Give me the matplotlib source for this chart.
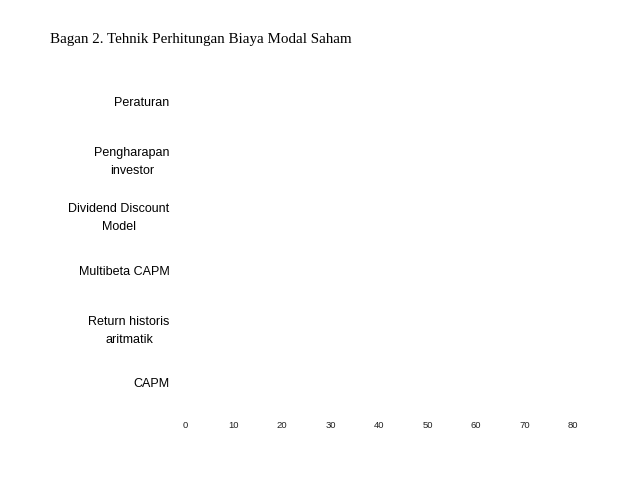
import numpy as np
import matplotlib.pyplot as plt

judul = "Bagan 2. Tehnik Perhitungan Biaya Modal Saham"
teknik = ["CAPM", "Return historis\naritmatik", "Multibeta CAPM",
          "Dividend Discount\nModel", "Pengharapan\ninvestor", "Peraturan"]
nilai = [0, 0, 0, 0, 0, 0]
ticks_x = [0, 10, 20, 30, 40, 50, 60, 70, 80]

fig = plt.figure(figsize=(6.38, 4.79), dpi=100)
W, H = 638, 479
ax = fig.add_axes([185 / W, 1 - 411 / H, (573 - 185) / W, (411 - 73) / H])

pos = np.arange(len(teknik))
ax.barh(pos, nilai, height=0.6, color="#4f81bd")
ax.set_xlim(0, 80)
ax.set_ylim(-0.5, len(teknik) - 0.5)
ax.set_xticks(ticks_x)
ax.set_xticklabels([str(t) for t in ticks_x], fontsize=6.8, family="Liberation Sans", color="#222222")
ax.set_yticks(pos)
ax.set_yticklabels(teknik, fontsize=9, family="Liberation Sans", multialignment="center", linespacing=1.65)
ax.tick_params(axis="both", length=0)
ax.tick_params(axis="y", pad=11)
ax.tick_params(axis="x", pad=7)
for s in ax.spines.values():
    s.set_visible(False)

fig.text(50 / W, 1 - 39 / H, judul, fontsize=10.85, family="Liberation Serif", va="center", ha="left")

fig.savefig("out.png", dpi=100)
